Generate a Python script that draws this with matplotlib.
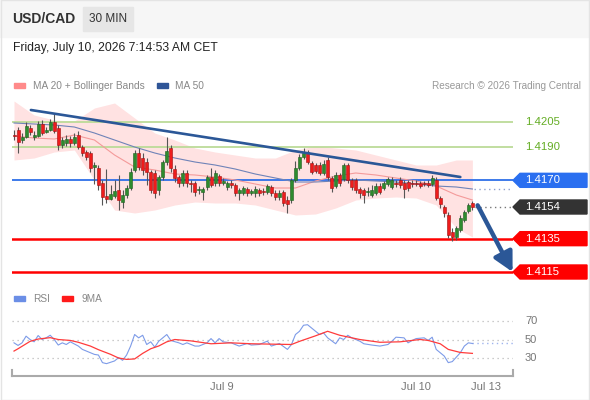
import numpy as np
import matplotlib.pyplot as plt
import matplotlib.transforms as mtransforms
from matplotlib.patches import Rectangle, Polygon

plt.rcParams['font.family'] = ['Liberation Sans', 'DejaVu Sans']

# ---- data (30 min candles, USD/CAD) ----
opens = [1.41972, 1.42002, 1.41942, 1.41960, 1.42014, 1.41960, 1.41966, 1.42038, 1.41990, 1.42002,
         1.42050, 1.42014, 1.41912, 1.41924, 1.41948, 1.41924, 1.41972, 1.41900, 1.41870, 1.41864,
         1.41780, 1.41774, 1.41684, 1.41606, 1.41588, 1.41606, 1.41642, 1.41570, 1.41612, 1.41654,
         1.41762, 1.41864, 1.41834, 1.41810, 1.41750, 1.41744, 1.41642, 1.41720, 1.41810, 1.41894,
         1.41768, 1.41720, 1.41684, 1.41744, 1.41684, 1.41684, 1.41642, 1.41630, 1.41660, 1.41720,
         1.41684, 1.41726, 1.41684, 1.41660, 1.41684, 1.41672, 1.41624, 1.41624, 1.41648, 1.41624,
         1.41624, 1.41642, 1.41636, 1.41630, 1.41660, 1.41624, 1.41600, 1.41630, 1.41582, 1.41582,
         1.41702, 1.41774, 1.41840, 1.41870, 1.41804, 1.41792, 1.41792, 1.41744, 1.41822, 1.41714,
         1.41666, 1.41732, 1.41708, 1.41792, 1.41702, 1.41702, 1.41648, 1.41642, 1.41630, 1.41612,
         1.41624, 1.41666, 1.41654, 1.41678, 1.41660, 1.41684, 1.41702, 1.41684, 1.41690, 1.41684,
         1.41684, 1.41684, 1.41684, 1.41684, 1.41678, 1.41702, 1.41594, 1.41540, 1.41492, 1.41390,
         1.41360, 1.41402, 1.41462, 1.41516, 1.41564]
highs = [1.42002, 1.42020, 1.41984, 1.42050, 1.42032, 1.41996, 1.42056, 1.42062, 1.42020, 1.42068,
         1.42104, 1.42032, 1.41960, 1.41972, 1.41966, 1.41984, 1.41996, 1.41912, 1.41882, 1.41876,
         1.41810, 1.41792, 1.41702, 1.41768, 1.41672, 1.41702, 1.41732, 1.41642, 1.41672, 1.41774,
         1.41882, 1.41894, 1.41864, 1.41834, 1.41762, 1.41762, 1.41732, 1.41822, 1.41960, 1.41912,
         1.41792, 1.41732, 1.41762, 1.41762, 1.41702, 1.41696, 1.41666, 1.41660, 1.41732, 1.41774,
         1.41762, 1.41738, 1.41714, 1.41696, 1.41702, 1.41684, 1.41654, 1.41666, 1.41660, 1.41648,
         1.41666, 1.41654, 1.41654, 1.41678, 1.41672, 1.41642, 1.41642, 1.41642, 1.41606, 1.41714,
         1.41816, 1.41858, 1.41894, 1.41882, 1.41816, 1.41804, 1.41810, 1.41822, 1.41840, 1.41726,
         1.41750, 1.41744, 1.41804, 1.41804, 1.41714, 1.41714, 1.41660, 1.41654, 1.41660, 1.41672,
         1.41684, 1.41684, 1.41696, 1.41720, 1.41720, 1.41702, 1.41720, 1.41702, 1.41702, 1.41702,
         1.41702, 1.41696, 1.41696, 1.41702, 1.41732, 1.41720, 1.41606, 1.41552, 1.41510, 1.41414,
         1.41426, 1.41492, 1.41522, 1.41564, 1.41576]
lows = [1.41942, 1.41864, 1.41924, 1.41954, 1.41972, 1.41942, 1.41960, 1.41972, 1.41984, 1.41996,
        1.41984, 1.41882, 1.41894, 1.41906, 1.41900, 1.41912, 1.41888, 1.41846, 1.41822, 1.41750,
        1.41678, 1.41642, 1.41552, 1.41564, 1.41582, 1.41594, 1.41522, 1.41534, 1.41594, 1.41642,
        1.41750, 1.41762, 1.41732, 1.41672, 1.41624, 1.41594, 1.41612, 1.41702, 1.41792, 1.41750,
        1.41690, 1.41660, 1.41666, 1.41660, 1.41630, 1.41606, 1.41618, 1.41582, 1.41642, 1.41660,
        1.41666, 1.41666, 1.41672, 1.41642, 1.41654, 1.41606, 1.41582, 1.41612, 1.41606, 1.41612,
        1.41600, 1.41606, 1.41612, 1.41618, 1.41606, 1.41582, 1.41582, 1.41546, 1.41504, 1.41564,
        1.41690, 1.41762, 1.41828, 1.41798, 1.41738, 1.41744, 1.41732, 1.41732, 1.41702, 1.41630,
        1.41654, 1.41666, 1.41696, 1.41684, 1.41642, 1.41624, 1.41594, 1.41564, 1.41606, 1.41600,
        1.41612, 1.41618, 1.41642, 1.41666, 1.41648, 1.41660, 1.41654, 1.41594, 1.41636, 1.41660,
        1.41666, 1.41654, 1.41666, 1.41660, 1.41666, 1.41582, 1.41534, 1.41480, 1.41354, 1.41336,
        1.41342, 1.41390, 1.41450, 1.41504, 1.41522]
closes = [1.41966, 1.41930, 1.41960, 1.42026, 1.41990, 1.41972, 1.42038, 1.41984, 1.42002, 1.42050,
          1.41996, 1.41912, 1.41942, 1.41948, 1.41924, 1.41960, 1.41900, 1.41864, 1.41840, 1.41774,
          1.41792, 1.41672, 1.41600, 1.41588, 1.41618, 1.41636, 1.41582, 1.41612, 1.41654, 1.41750,
          1.41864, 1.41780, 1.41762, 1.41750, 1.41642, 1.41624, 1.41720, 1.41810, 1.41876, 1.41774,
          1.41714, 1.41684, 1.41744, 1.41684, 1.41678, 1.41630, 1.41648, 1.41648, 1.41720, 1.41672,
          1.41744, 1.41684, 1.41696, 1.41684, 1.41672, 1.41624, 1.41642, 1.41654, 1.41624, 1.41636,
          1.41648, 1.41624, 1.41630, 1.41666, 1.41624, 1.41600, 1.41624, 1.41564, 1.41558, 1.41702,
          1.41774, 1.41840, 1.41864, 1.41810, 1.41750, 1.41756, 1.41744, 1.41798, 1.41720, 1.41654,
          1.41732, 1.41684, 1.41792, 1.41702, 1.41660, 1.41642, 1.41624, 1.41612, 1.41636, 1.41642,
          1.41666, 1.41630, 1.41684, 1.41708, 1.41702, 1.41678, 1.41672, 1.41648, 1.41654, 1.41678,
          1.41678, 1.41666, 1.41678, 1.41672, 1.41714, 1.41594, 1.41558, 1.41504, 1.41372, 1.41360,
          1.41414, 1.41474, 1.41510, 1.41552, 1.41540]

# indicators read at every 5th candle
ind_idx = [0, 5, 10, 15, 20, 25, 30, 35, 40, 45, 50, 55, 60, 65, 70, 75, 80, 85, 90, 95, 100, 105, 110, 114]
bb_upper = [1.42176, 1.42092, 1.42062, 1.42056, 1.42134, 1.42164, 1.42074, 1.41984, 1.41942, 1.41894,
            1.41870, 1.41852, 1.41834, 1.41834, 1.41882, 1.41906, 1.41894, 1.41882, 1.41852, 1.41822,
            1.41792, 1.41792, 1.41822, 1.41822]
ma20 = [1.41966, 1.41954, 1.41948, 1.41972, 1.41942, 1.41852, 1.41780, 1.41762, 1.41738, 1.41732,
        1.41720, 1.41702, 1.41678, 1.41654, 1.41654, 1.41696, 1.41726, 1.41744, 1.41732, 1.41714,
        1.41696, 1.41666, 1.41612, 1.41582]
bb_lower = [1.41822, 1.41834, 1.41870, 1.41882, 1.41702, 1.41522, 1.41504, 1.41522, 1.41552, 1.41570,
            1.41564, 1.41564, 1.41552, 1.41522, 1.41492, 1.41498, 1.41534, 1.41582, 1.41594, 1.41600,
            1.41594, 1.41552, 1.41414, 1.41360]
ma50 = [1.42044, 1.42038, 1.42032, 1.42020, 1.41984, 1.41942, 1.41900, 1.41864, 1.41834, 1.41810,
        1.41792, 1.41768, 1.41738, 1.41714, 1.41690, 1.41690, 1.41696, 1.41702, 1.41696, 1.41690,
        1.41678, 1.41666, 1.41660, 1.41648]

rsi_idx = [0, 1, 2, 3, 4, 5, 6, 7, 8, 9, 10, 11, 12, 13, 14, 16, 17, 18, 20, 21,
           22, 23, 25, 26, 27, 28, 29, 30, 31, 32, 33, 34, 35, 36, 38, 39, 41, 42, 43, 45,
           46, 48, 49, 50, 51, 52, 54, 55, 56, 58, 59, 61, 63, 64, 66, 68, 69, 70, 71, 72,
           73, 75, 76, 77, 78, 80, 81, 82, 83, 84, 86, 87, 89, 91, 93, 94, 95, 97, 98, 99,
           100, 102, 103, 104, 105, 106, 107, 108, 109, 111, 112, 113, 114]
rsi = [46.4, 43.6, 46.4, 53.6, 50.0, 47.5, 54.3, 50.0, 51.8, 54.6, 50.0, 44.0, 46.4, 44.6, 47.5, 42.9, 39.3, 37.5, 33.9, 33.2,
       25.0, 23.9, 26.8, 30.4, 27.5, 33.2, 42.9, 55.4, 51.8, 54.6, 44.6, 47.5, 41.8, 48.2, 55.4, 48.9, 46.4, 44.6, 46.4, 42.9,
       42.9, 46.4, 51.0, 46.4, 51.0, 47.5, 46.4, 44.6, 42.9, 45.7, 44.0, 44.6, 48.2, 42.9, 45.7, 39.3, 44.6, 55.4, 58.9, 65.4,
       66.0, 58.9, 55.4, 57.1, 51.8, 45.4, 51.8, 50.0, 54.6, 51.8, 48.2, 45.4, 44.0, 42.9, 44.6, 48.2, 52.5, 51.8, 46.4, 48.9,
       51.0, 51.8, 49.0, 52.5, 39.3, 35.7, 32.1, 25.0, 26.1, 35.7, 42.9, 46.4, 45.7]
ma9_idx = [0, 1, 4, 6, 9, 11, 14, 16, 19, 21, 24, 26, 28, 30, 32, 34, 36, 38, 40, 44,
           49, 54, 59, 64, 69, 71, 75, 78, 81, 86, 91, 96, 101, 103, 106, 108, 111, 114]
rsi_ma9 = [37.5, 40.0, 48.0, 50.5, 52.0, 50.0, 49.0, 47.0, 42.9, 39.0, 34.0, 30.0, 28.5, 29.0, 35.0, 40.0, 43.0, 47.5, 50.0, 48.5,
           45.4, 46.4, 45.4, 45.0, 44.6, 48.0, 54.0, 58.9, 54.6, 50.0, 47.0, 47.5, 50.0, 49.0, 45.4, 39.3, 36.0, 35.0]

res_levels = [1.4205, 1.4190]
pivot = 1.4170
sup_levels = [1.4135, 1.4115]
last_price = 1.4154
trend_idx = [4.2, 111.0]
trend_val = [1.42122, 1.41720]
arrow_from = (115.3, 1.41550)
arrow_to = (124.0, 1.41150)
tick_pos = [51.7, 100.0, 117.3]
tick_lab = ['Jul 9', 'Jul 10', 'Jul 13']

W, H = 590, 400
def fx(x): return x / W
def fy(y): return 1 - y / H

fig = plt.figure(figsize=(5.9, 4.0), dpi=100)
fig.patch.set_facecolor('white')

# header
fig.add_artist(Rectangle((0, fy(37)), 1, 37 / H, transform=fig.transFigure, color='#f6f6f6', zorder=0))
fig.add_artist(Rectangle((fx(83), fy(31)), 50 / W, 24 / H, transform=fig.transFigure, color='#e6e6e6', zorder=1))
fig.text(fx(12), fy(19), 'USD/CAD', fontsize=10, fontweight='bold', color='#333333', va='center')
fig.text(fx(108), fy(19), '30 MIN', fontsize=8.5, color='#333333', va='center', ha='center')
fig.text(fx(13), fy(48), 'Friday, July 10, 2026 7:14:53 AM CET', fontsize=8.7, color='#222222', va='center')
fig.add_artist(Rectangle((0.001, 0.001), 0.998, 0.998, transform=fig.transFigure, fill=False,
                         edgecolor='#e4e4e4', lw=1))

# legends
fig.add_artist(Rectangle((fx(14), fy(88)), 11 / W, 5 / H, transform=fig.transFigure, color='#ff8a8a'))
fig.text(fx(33), fy(86), 'MA 20 + Bollinger Bands', fontsize=7.3, color='#888888', va='center')
fig.add_artist(Rectangle((fx(157), fy(88)), 11 / W, 5 / H, transform=fig.transFigure, color='#2f5597'))
fig.text(fx(175), fy(86), 'MA 50', fontsize=7.3, color='#888888', va='center')
fig.text(fx(581), fy(86), 'Research \u00a9 2026 Trading Central', fontsize=7.2, color='#999999',
         va='center', ha='right')
fig.add_artist(Rectangle((fx(14), fy(301)), 11 / W, 5 / H, transform=fig.transFigure, color='#6b8ee6'))
fig.text(fx(33), fy(299), 'RSI', fontsize=7.3, color='#888888', va='center')
fig.add_artist(Rectangle((fx(62), fy(301)), 11 / W, 5 / H, transform=fig.transFigure, color='#ff1a1a'))
fig.text(fx(81), fy(299), '9MA', fontsize=7.3, color='#888888', va='center')

# ---- price panel ----
ax = fig.add_axes([fx(12), fy(280), 501 / W, 185 / H])
ax.set_xlim(-0.5, 124.1)
ax.set_ylim(1.41102, 1.42212)
ax.axis('off')

ax.fill_between(ind_idx, bb_lower, bb_upper, color='#ffe2e2', lw=0, zorder=1)
for lv in res_levels:
    ax.axhline(lv, color='#bcdb98', lw=1.3, zorder=2)
ax.axhline(pivot, color='#2e6fe8', lw=1.3, zorder=2)
for lv in sup_levels:
    ax.axhline(lv, color='#ff0000', lw=1.8, zorder=2)
ax.plot(ind_idx, ma20, color='#f49a9a', lw=0.8, zorder=3)
ax.plot(ind_idx, ma50, color='#6f83b8', lw=0.8, zorder=3)

idx = np.arange(len(closes))
o = np.array(opens); c = np.array(closes)
up = c >= o
ax.vlines(idx, lows, highs, color='#555555', lw=0.8, zorder=4)
bottom = np.minimum(o, c)
height = np.maximum(np.abs(c - o), 0.00004)
ax.bar(idx[up], height[up], bottom=bottom[up], width=0.75, color='#2e8b2e', edgecolor='#1f5e1f', lw=0.4, zorder=5)
ax.bar(idx[~up], height[~up], bottom=bottom[~up], width=0.75, color='#ee1c1c', edgecolor='#a01010', lw=0.4, zorder=5)

ax.plot(trend_idx, trend_val, color='#2b5797', lw=1.9, zorder=6, solid_capstyle='round')
ax.plot([idx[-1] + 0.7, 124.1], [closes[-1], closes[-1]], color='#777777', lw=1, ls=(0, (1, 2.5)), zorder=3)
ax.plot([idx[-1] + 0.3, 124.1], [ma50[-1], ma50[-1]], color='#8fa0cc', lw=1, ls=(0, (1, 2.5)), zorder=3)
ax.annotate('', xy=arrow_to, xytext=arrow_from, annotation_clip=False,
            arrowprops=dict(arrowstyle='-|>,head_width=0.6,head_length=1.15', lw=3.2,
                            color='#2b5797', shrinkA=0, shrinkB=0), zorder=7)

# right side labels
trans = mtransforms.blended_transform_factory(fig.transFigure, ax.transData)
hh = 0.00042
for lv in res_levels:
    fig.text(fx(525), lv, f'{lv:.4f}', transform=trans, fontsize=8.2, color='#64ad24', va='center')
boxes = [(pivot, '#2a6ff0'), (last_price, '#333333')] + [(lv, '#ff0000') for lv in sup_levels]
for lv, col in boxes:
    pts = [(fx(513), lv), (fx(520), lv + hh), (fx(587), lv + hh), (fx(587), lv - hh), (fx(520), lv - hh)]
    fig.add_artist(Polygon(pts, closed=True, transform=trans, color=col, zorder=8))
    fig.text(fx(525), lv, f'{lv:.4f}', transform=trans, fontsize=8.2, color='white', va='center', zorder=9)

# ---- RSI panel ----
rax = fig.add_axes([fx(12), fy(376), 501 / W, 66 / H])
rax.set_xlim(-0.5, 124.1)
rax.set_ylim(10.54, 81.9)
for s in ['top', 'right', 'left']:
    rax.spines[s].set_visible(False)
rax.spines['bottom'].set_color('#aaaaaa')
rax.spines['bottom'].set_linewidth(1.5)
rax.plot([0, 0], [0, 0.09], transform=rax.transAxes, color='#aaaaaa', lw=1.5, clip_on=False)
rax.plot([1, 1], [0, 0.09], transform=rax.transAxes, color='#aaaaaa', lw=1.5, clip_on=False)
rax.set_yticks([])
for g in [30, 50, 70]:
    rax.axhline(g, color='#bbbbbb', lw=0.9, ls=(0, (1, 3)), zorder=1)
rtrans = mtransforms.blended_transform_factory(fig.transFigure, rax.transData)
for g in [70, 50, 30]:
    fig.text(fx(525), g, str(g), transform=rtrans, fontsize=8, color='#777777', va='center')
rax.plot(rsi_idx, rsi, color='#7d9be8', lw=0.8, zorder=3)
rax.plot([rsi_idx[-1], 124.1], [rsi[-1], rsi[-1]], color='#9fb4ee', lw=1, ls=(0, (1, 2.5)), zorder=2)
rax.plot(ma9_idx, rsi_ma9, color='#ff3b3b', lw=0.9, zorder=4)
rax.set_xticks(tick_pos)
rax.set_xticklabels(tick_lab, fontsize=8, color='#777777')
rax.tick_params(axis='x', length=0, pad=4)

fig.savefig('out.png', dpi=100)
